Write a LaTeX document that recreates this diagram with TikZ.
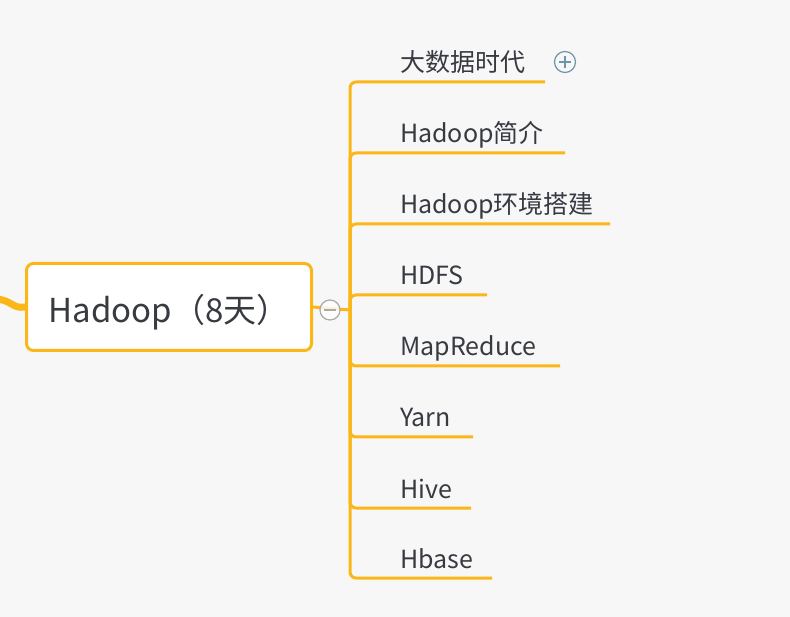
\documentclass[tikz,border=0pt]{standalone}
\usepackage{fontspec}
\setmainfont{Noto Sans CJK SC}
\usepackage{tikz}
\usetikzlibrary{positioning}
\usetikzlibrary{calc}
\definecolor{orange}{RGB}{251,182,24}
\definecolor{textgray}{RGB}{55,58,64}
\definecolor{paper}{RGB}{247,247,247}
\definecolor{foldgray}{RGB}{170,170,170}
\definecolor{plusblue}{RGB}{110,150,170}

\begin{document}
\begin{tikzpicture}[x=1pt, y=-1pt,
    branch/.style={draw=orange, line width=3pt, rounded corners=6pt},
    leaf/.style={anchor=base west, inner sep=0pt, text=textgray, font=\fontsize{25}{29}\selectfont},
    topic/.style={draw=orange, line width=3pt, fill=white, rounded corners=7pt,
        minimum width=285pt, minimum height=87pt, text height=32pt, text depth=0pt,
        text=textgray, font=\fontsize{33}{38}\selectfont}]
    \useasboundingbox (0,0) rectangle (790,617);
    \fill[paper] (0,0) rectangle (790,617);

    % central topic
    \node[topic] (main) at (169,307) {Hadoop（8天）};
    \coordinate (in) at (-4,299);
    \draw[orange, line width=7pt] (in) .. controls (12,300) and (12,309) .. (main.west);

    % branches
    \coordinate (hub) at (350,310);
    \draw[branch, rounded corners=0pt] (main.east) -- (hub);
    \foreach \y/\txt/\xe [count=\i] in {82/大数据时代/545, 153/Hadoop简介/565,
        224/Hadoop环境搭建/610, 295/HDFS/487, 366/MapReduce/560,
        437/Yarn/473, 508/Hive/471, 578/Hbase/492} {
        \node[leaf] (c\i) at (400,\y-10) {\txt};
        \coordinate (e\i) at (\xe,\y);
        \draw[branch] (hub) |- (e\i);
    }

    % fold / unfold marks
    \node[circle, draw=foldgray, fill=white, fill opacity=0.8, line width=1.2pt,
        minimum size=20pt, inner sep=0pt] (fold) at (330,310) {};
    \draw[foldgray, line width=1.2pt] ($(fold.center)+(-6,0)$) -- ($(fold.center)+(6,0)$);
    \node[circle, draw=plusblue, line width=1.2pt, minimum size=21pt, inner sep=0pt]
        (more) at (565,62) {};
    \draw[plusblue, line width=1.2pt] ($(more.center)+(-6,0)$) -- ($(more.center)+(6,0)$)
        ($(more.center)+(0,-6)$) -- ($(more.center)+(0,6)$);
\end{tikzpicture}
\end{document}
